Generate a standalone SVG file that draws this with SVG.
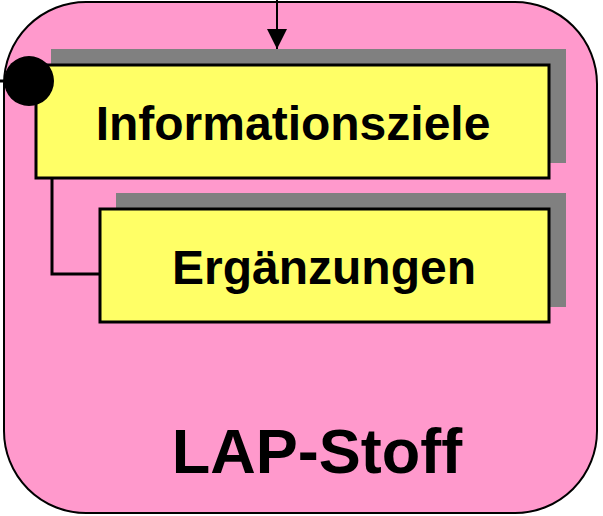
<svg xmlns="http://www.w3.org/2000/svg" width="603" height="516" viewBox="0 0 603 516">
<style>
.shadow{fill:#808080}
.box{fill:#ffff66;stroke:#000;stroke-width:3}
.lbl{font-family:"Liberation Sans",Arial,sans-serif;font-weight:bold;fill:#000;text-anchor:middle}
.con{fill:none;stroke:#000;stroke-width:3}
</style>
<defs>
<marker id="arr" markerWidth="20" markerHeight="20" refX="20" refY="10" orient="auto" markerUnits="userSpaceOnUse" viewBox="0 0 20 20">
<path d="M0,0 L20,10 L0,20 z" fill="#000"/>
</marker>
</defs>
<g id="lap-stoff">
<rect x="4" y="2" width="593" height="511" rx="82" ry="82" fill="#ff99cc" stroke="#000" stroke-width="2"/>
<text class="lbl" x="317" y="473" font-size="63">LAP-Stoff</text>
</g>
<g id="informationsziele">
<rect class="shadow" x="51" y="49" width="515" height="114"/>
<rect class="box" x="36" y="65" width="513" height="113"/>
<text class="lbl" x="293" y="140" font-size="48">Informationsziele</text>
</g>
<g id="ergaenzungen">
<rect class="shadow" x="116" y="193" width="450" height="114"/>
<rect class="box" x="100" y="209" width="449" height="113"/>
<text class="lbl" x="324" y="284" font-size="48">Ergänzungen</text>
</g>
<g id="connectors">
<line x1="277" y1="0" x2="277" y2="49" stroke="#000" stroke-width="2" marker-end="url(#arr)"/>
<polyline class="con" points="52,178 52,274 100,274"/>
<line x1="0" y1="81" x2="8" y2="81" stroke="#000" stroke-width="3"/>
<circle cx="29" cy="81" r="25" fill="#000"/>
</g>
</svg>
